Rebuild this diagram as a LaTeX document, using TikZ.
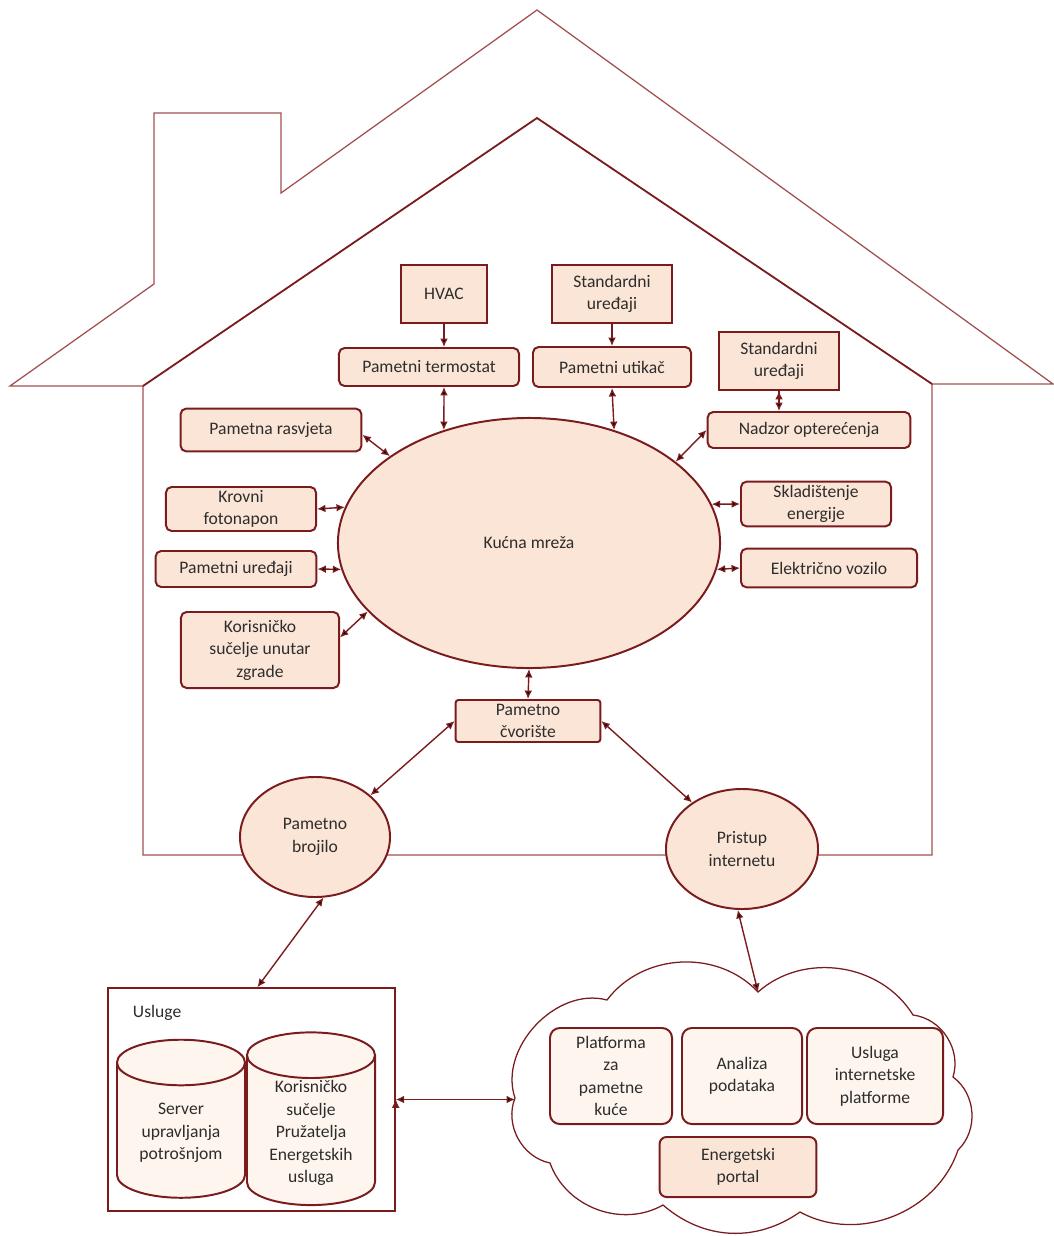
\documentclass[tikz,border=0pt]{standalone}
\usepackage{fontspec}
\setmainfont{Carlito}
\usetikzlibrary{shapes.geometric,arrows.meta}

\definecolor{linija}{RGB}{122,28,30}
\definecolor{zid}{RGB}{160,80,80}
\definecolor{ispuna}{RGB}{251,229,214}
\definecolor{svijetla}{RGB}{253,245,238}
\definecolor{tekst}{RGB}{45,45,45}

\begin{document}
\begin{tikzpicture}[
  x=0.025cm, y=-0.025cm,
  font=\fontsize{12.5}{16}\selectfont,
  >={Latex[length=6pt,width=5.5pt]},
  kutija/.style={draw=linija, line width=1.4pt, fill=ispuna, text=tekst,
    align=center, inner sep=1pt},
  zaobljena/.style={kutija, rounded corners=4pt},
  krug/.style={kutija, ellipse},
  valjak/.style={kutija, fill=svijetla, cylinder, shape border rotate=90,
    aspect=0.53, minimum width=3.2cm, minimum height=3.95cm},
  oblak/.style={zaobljena, fill=svijetla, rounded corners=7pt,
    minimum height=2.4cm},
  strelica/.style={draw=linija, line width=1pt},
  kuca/.style={draw=zid, line width=0.9pt},
  puf/.style={bend left=#1},
  puf/.default=50
  ]
  \path[use as bounding box] (0,0) rectangle (1053,1236);

  % kuca
  \path[kuca]
  (143,386) -- (10,386) -- (154,284) -- (154,113) -- (281,113)
  -- (281,193) -- (537,10) -- (1053,384) -- (932,384)
  -- (932,855) -- (143,855) -- cycle;
  \path[draw=linija, line width=1.3pt]
  (143,386) -- (537,118) -- (932,384);

  \node[krug, minimum width=9.55cm, minimum height=6.25cm] (n00) at (529,543) {Kućna mreža};

  \node[kutija, minimum width=2.15cm, minimum height=1.45cm] (n01) at (444,294) {HVAC};
  \node[kutija, minimum width=3cm, minimum height=1.45cm] (n02) at (612,294) {Standardni\\uređaji};
  \node[kutija, minimum width=3cm, minimum height=1.45cm] (n03) at (779,361) {Standardni\\uređaji};

  \node[zaobljena, minimum width=4.5cm, minimum height=0.95cm] (n04) at (429,367) {Pametni termostat};
  \node[zaobljena, minimum width=3.95cm, minimum height=1cm] (n05) at (612,367) {Pametni utikač};
  \node[zaobljena, minimum width=5.07cm, minimum height=0.9cm] (n06) at (809,430) {Nadzor opterećenja};

  \node[zaobljena, minimum width=4.52cm, minimum height=1.07cm] (n07) at (271,430) {Pametna rasvjeta};
  \node[zaobljena, minimum width=3.75cm, minimum height=1.1cm] (n08) at (241,509) {Krovni\\fotonapon};
  \node[zaobljena, minimum width=4.02cm, minimum height=0.9cm] (n09) at (236,569) {Pametni uređaji};
  \node[zaobljena, minimum width=3.95cm, minimum height=1.9cm] (n10) at (260,650) {Korisničko\\sučelje unutar\\zgrade};

  \node[zaobljena, minimum width=3.75cm, minimum height=1.12cm] (n11) at (816,504) {Skladištenje\\energije};
  \node[zaobljena, minimum width=4.4cm, minimum height=0.97cm] (n12) at (829,568) {Električno vozilo};

  \node[zaobljena, rounded corners=2pt, minimum width=3.62cm, minimum height=1.05cm] (n13) at (528,721) {Pametno\\čvorište};
  \node[krug, minimum width=3.75cm, minimum height=3cm] (n14) at (315,837) {Pametno\\brojilo};
  \node[krug, minimum width=3.8cm, minimum height=3cm] (n15) at (742,849) {Pristup\\internetu};

  % usluge
  \node[draw=linija, line width=1.1pt, minimum width=7.17cm, minimum height=5.57cm] (n16) at (251.5,1099.5) {};
  \node[anchor=west, text=tekst] (n17) at (128,1013) {Usluge};
  \node[valjak] (n18) at (181,1133) {Server\\upravljanja\\potrošnjom};
  \node[valjak] (n19) at (311,1133) {Korisničko\\sučelje\\Pružatelja\\Energetskih\\usluga};

  % oblak
  \coordinate (c1) at (758,992);
  \coordinate (c2) at (515,1098);
  \path[draw=linija, line width=0.9pt]
  (c2) to[puf=62] (607,1000) to[puf] (c1) to[puf] (913,1015)
  to[puf] (953,1077) to[puf] (958,1150) to[puf] (800,1212)
  to[puf=38] (663,1205) to[puf] (550,1163) to[puf] (c2);
  \node[oblak, minimum width=3.05cm] (n21) at (611,1076) {Platforma\\za\\pametne\\kuće};
  \node[oblak, minimum width=3cm] (n22) at (742,1076) {Analiza\\podataka};
  \node[oblak, minimum width=3.4cm] (n23) at (875,1076) {Usluga\\internetske\\platforme};
  \node[zaobljena, rounded corners=5pt, minimum width=3.92cm, minimum height=1.5cm] (n24) at (738,1167) {Energetski\\portal};

  \path[strelica, ->]
  (n01.south) edge (n01.south |- n04.north)
  (n02.south) edge (n05.north)
  (n03.south) edge (n03.south |- n06.north);

  \path[strelica, <->]
  (n04.south -| n01.south) edge (n00.127)
  (n05.south)  edge (n00.53.5)
  (n06.west)   edge (n00.29)
  (n07.-3)     edge (n00.148)
  (n08.east)   edge (n00.169.5)
  (n09.east)   edge (n00.188)
  (n10.9)      edge (n00.203)
  (n11.west)   edge (n00.12)
  (n12.west)   edge (n00.352.4)
  (n00.south)  edge (n13.north)
  (n13.west)   edge (n14.37)
  (n13.east)   edge (n15.137)
  (n14.278)    edge (n16.87)
  (n15.266)    edge (c1)
  (n16.east)   edge (n16.east -| c2);
\end{tikzpicture}
\end{document}
